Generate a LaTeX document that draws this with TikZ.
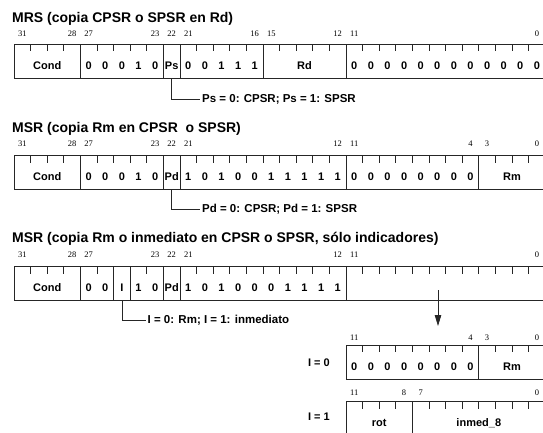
\documentclass[tikz,border=0pt]{standalone}
\usepackage{fontspec}
\setmainfont{Liberation Serif}
\setsansfont{Liberation Sans}
\usetikzlibrary{arrows.meta}

% caja de un registro: #1 arriba, #2 celda inicial, #3 celda final, #4 separadores
\newcommand{\caja}[4]{%
  \draw[marco] ({14+#2*16.6},#1) rectangle ({14+(#3+1)*16.6},#1+34);
  \pgfmathtruncatemacro{\ini}{#2+1}%
  \pgfmathtruncatemacro{\fin}{#3}%
  \foreach \i in {\ini,...,\fin} \draw[marco] ({14+\i*16.6},#1) -- ++(0,7);
  \foreach \s in {#4} \draw[marco] ({14+\s*16.6},#1) -- ++(0,34);
}

\begin{document}
\begin{tikzpicture}[x=1pt, y=-1pt,
    marco/.style={draw=black!85, line width=0.8pt},
    titulo/.style={font=\sffamily\bfseries\fontsize{14}{15}\selectfont, anchor=base west, inner sep=0pt},
    campo/.style={font=\sffamily\bfseries\fontsize{11}{12}\selectfont, anchor=base, inner sep=0pt},
    nbit/.style={font=\rmfamily\fontsize{8.5}{10}\selectfont, anchor=base, inner sep=0pt},
    nota/.style={font=\sffamily\bfseries\fontsize{11.5}{12}\selectfont, anchor=west, inner sep=2pt}]
  \useasboundingbox (0,0) rectangle (543,432);
  \clip (0,0) rectangle (543,432);

  % 1. MRS
  \node[titulo] (t1) at (12,22.7) {MRS (copia CPSR o SPSR en Rd)};
  \foreach \c/\n [count=\k] in {0/31,3/28,4/27,8/23,9/22,10/21,14/16,15/15,19/12,20/11,31/0}
    \node[nbit] (b1-\k) at ({14+(\c+0.5)*16.6},36.7) {\n};
  \caja{44.3}{0}{31}{4,9,10,15,20}
  \foreach \c/\t [count=\k] in {1.5/Cond,4/0,5/0,6/0,7/1,8/0,9/Ps,10/0,11/0,12/1,13/1,14/1,17/Rd,
      20/0,21/0,22/0,23/0,24/0,25/0,26/0,27/0,28/0,29/0,30/0,31/0}
    \node[campo] (v1-\k) at ({14+(\c+0.5)*16.6},69.5) {\t};
  \coordinate (p1) at ({14+9.5*16.6},78.3);
  \node[nota] (nota1) at (200,99) {Ps = 0: CPSR; Ps = 1: SPSR};
  \draw[marco] (p1) |- (nota1.west);

  % 2. MSR con Rm
  \node[titulo] (t2) at (12,132) {MSR (copia Rm en CPSR\ \ o SPSR)};
  \foreach \c/\n [count=\k] in {0/31,3/28,4/27,8/23,9/22,10/21,19/12,20/11,27/4,28/3,31/0}
    \node[nbit] (b2-\k) at ({14+(\c+0.5)*16.6},146.7) {\n};
  \caja{155.7}{0}{31}{4,9,10,20,28}
  \foreach \c/\t [count=\k] in {1.5/Cond,4/0,5/0,6/0,7/1,8/0,9/Pd,10/1,11/0,12/1,13/0,14/0,15/1,16/1,17/1,18/1,19/1,
      20/0,21/0,22/0,23/0,24/0,25/0,26/0,27/0,29.5/Rm}
    \node[campo] (v2-\k) at ({14+(\c+0.5)*16.6},180.7) {\t};
  \coordinate (p2) at ({14+9.5*16.6},189.7);
  \node[nota] (nota2) at (200,209.3) {Pd = 0: CPSR; Pd = 1: SPSR};
  \draw[marco] (p2) |- (nota2.west);

  % 3. MSR con inmediato
  \node[titulo] (t3) at (12,242.7) {MSR (copia Rm o inmediato en CPSR o SPSR, sólo indicadores)};
  \foreach \c/\n [count=\k] in {0/31,3/28,4/27,8/23,9/22,10/21,19/12,20/11,31/0}
    \node[nbit] (b3-\k) at ({14+(\c+0.5)*16.6},257.3) {\n};
  \caja{266.7}{0}{31}{4,6,7,9,10,20}
  \foreach \c/\t [count=\k] in {1.5/Cond,4/0,5/0,6/I,7/1,8/0,9/Pd,10/1,11/0,12/1,13/0,14/0,15/0,16/1,17/1,18/1,19/1}
    \node[campo] (v3-\k) at ({14+(\c+0.5)*16.6},291.7) {\t};
  \coordinate (p3) at ({14+6.5*16.6},300.7);
  \node[nota] (nota3) at (145.5,320) {I = 0: Rm; I = 1: inmediato};
  \draw[marco] (p3) |- (nota3.west);

  % flecha hacia los operandos
  \coordinate (f-ini) at (438,290);
  \coordinate (f-fin) at (438,326);
  \draw[marco, -{Triangle[length=11pt, width=6.5pt]}] (f-ini) -- (f-fin);

  % I = 0
  \node[campo, anchor=base east] (i0) at (330,366.7) {I = 0};
  \foreach \c/\n [count=\k] in {20/11,27/4,28/3,31/0}
    \node[nbit] (b4-\k) at ({14+(\c+0.5)*16.6},340) {\n};
  \caja{345}{20}{31}{28}
  \foreach \c/\t [count=\k] in {20/0,21/0,22/0,23/0,24/0,25/0,26/0,27/0,29.5/Rm}
    \node[campo] (v4-\k) at ({14+(\c+0.5)*16.6},370) {\t};

  % I = 1
  \node[campo, anchor=base east] (i1) at (330,420) {I = 1};
  \foreach \c/\n [count=\k] in {20/11,23/8,24/7,31/0}
    \node[nbit] (b5-\k) at ({14+(\c+0.5)*16.6},395.5) {\n};
  \caja{401.7}{20}{31}{24}
  \foreach \c/\t [count=\k] in {21.5/rot,27.5/inmed\_8}
    \node[campo] (v5-\k) at ({14+(\c+0.5)*16.6},426.7) {\t};
\end{tikzpicture}
\end{document}
